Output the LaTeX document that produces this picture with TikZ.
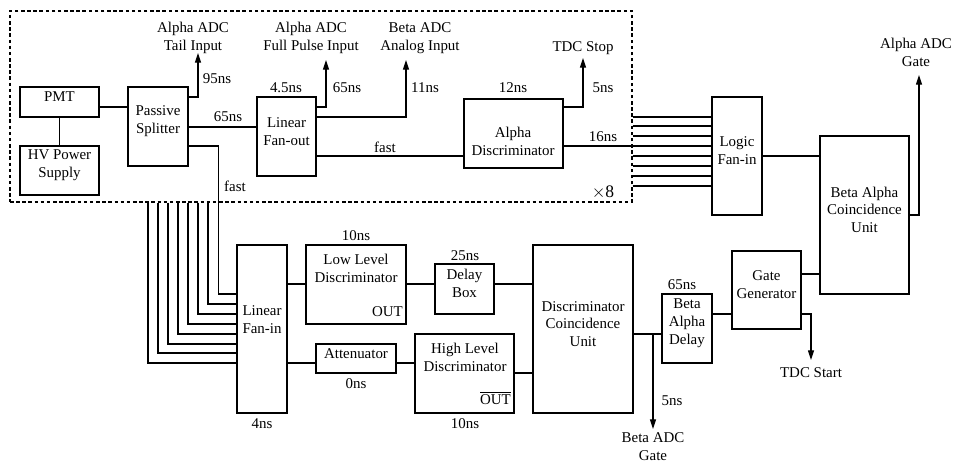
\documentclass[tikz,border=0pt]{standalone}
\usepackage{fontspec}
\setmainfont{Liberation Serif}
\usetikzlibrary{arrows.meta, fit}

\begin{document}
\begin{tikzpicture}[
    x=0.02cm, y=-0.02cm,
    line width=0.6pt,
    every node/.style={font=\fontsize{8.5}{10.2}\selectfont},
    blk/.style={draw, inner sep=0pt, align=center},
    grp/.style={draw, dash pattern=on 2pt off 1.5pt, inner sep=0pt},
    lbl/.style={inner sep=1pt, align=center},
    arrow/.style={-{Triangle[length=5.5pt, width=3.4pt]}}
]
\useasboundingbox (0,0) rectangle (958,466);
% one channel (repeated x8)
\node[grp, fit={(10,11) (632,202)}] (chan) {};
\node[lbl, font=\fontsize{10}{12}\selectfont] (times) at (603,192) {$\times$8};
\node[blk, fit={(20,87) (99,117)}] (pmt) {PMT};
\node[blk, fit={(20,146) (99,195)}] (hv) {HV Power\\Supply};
\node[blk, fit={(128,87) (188,166)}] (split) {Passive\\Splitter};
\node[blk, fit={(257,97) (316,176)}] (fanout) {Linear\\Fan-out};
\node[blk, fit={(464,99) (563,168)}] (adisc) {};
\node[lbl] (adisctxt) at (513,141) {Alpha\\Discriminator};
% coincidence logic
\node[blk, fit={(712,97) (762,215)}] (logfi) {Logic\\Fan-in};
\node[blk, fit={(820,136) (909,294)}] (bacu) {Beta Alpha\\Coincidence\\Unit};
\node[blk, fit={(732,251) (801,329)}] (gate) {Gate\\Generator};
\node[blk, fit={(662,294) (712,363)}] (badly) {Beta\\Alpha\\Delay};
\node[blk, fit={(533,245) (633,413)}] (dcu) {Discriminator\\Coincidence\\Unit};
\node[blk, fit={(435,264) (494,314)}] (dbox) {Delay\\Box};
\node[blk, fit={(415,334) (514,413)}] (hld) {};
\node[lbl] (hldtxt) at (465,357) {High Level\\Discriminator};
\node[lbl, anchor=east] (hldout) at (513,398) {$\overline{\mbox{OUT}}$};
\node[blk, fit={(306,245) (406,324)}] (lld) {};
\node[lbl] (lldtxt) at (356,268) {Low Level\\Discriminator};
\node[lbl, anchor=east] (lldout) at (405,312) {OUT};
\node[blk, fit={(316,344) (396,373)}] (att) {Attenuator};
\node[blk, fit={(237,245) (287,413)}] (lfin) {};
\node[lbl] (lfintxt) at (262,320) {Linear\\Fan-in};
% outputs
\node[lbl] (tailin) at (193,38) {Alpha ADC\\Tail Input};
\node[lbl] (fullin) at (311,38) {Alpha ADC\\Full Pulse Input};
\node[lbl] (anain) at (420,38) {Beta ADC\\Analog Input};
\node[lbl] (tdcstop) at (583,48) {TDC Stop};
\node[lbl] (agate) at (916,52) {Alpha ADC\\Gate};
\node[lbl] (bgate) at (653,447) {Beta ADC\\Gate};
\node[lbl] (tdcstart) at (811,373) {TDC Start};
\coordinate (tailend) at (198,53);
\coordinate (fullend) at (326,60);
\coordinate (anaend) at (406,60);
\coordinate (stopend) at (583,58);
\coordinate (agateend) at (919,75);
\coordinate (bgateend) at (653,429);
\coordinate (startend) at (811,360);
% delays
\node[lbl] (d95) at (217,79) {95ns};
\node[lbl] (d65a) at (228,117) {65ns};
\node[lbl] (fasta) at (235,186) {fast};
\node[lbl] (d45) at (286,88) {4.5ns};
\node[lbl] (d65b) at (347,88) {65ns};
\node[lbl] (d11) at (425,88) {11ns};
\node[lbl] (fastb) at (385,147) {fast};
\node[lbl] (d12) at (513,88) {12ns};
\node[lbl] (d5a) at (603,88) {5ns};
\node[lbl] (d16) at (603,137) {16ns};
\node[lbl] (d10a) at (356,236) {10ns};
\node[lbl] (d25) at (465,256) {25ns};
\node[lbl] (d0) at (356,384) {0ns};
\node[lbl] (d4) at (262,424) {4ns};
\node[lbl] (d10b) at (465,424) {10ns};
\node[lbl] (d65c) at (682,285) {65ns};
\node[lbl] (d5b) at (672,401) {5ns};
% channel wiring
\draw (pmt.south) -- (hv.north);
\draw (pmt.east |- 0,107) -- (split.west |- 0,107);
\draw[arrow] (split.east |- 0,97) -| (tailend);
\draw (split.east |- 0,127) -- (fanout.west |- 0,127);
\draw (split.east |- 0,146) -- ++(30,0) |- (lfin.west |- 0,294);
\draw[arrow] (fanout.east |- 0,107) -| (fullend);
\draw[arrow] (fanout.east |- 0,117) -| (anaend);
\draw (fanout.east |- 0,156) -- (adisc.west |- 0,156);
\draw[arrow] (adisc.east |- 0,107) -| (stopend);
\draw (adisc.east |- 0,146) -- (logfi.west |- 0,146);
% the other seven channels
\draw (chan.east |- 0,117) -- (logfi.west |- 0,117);
\draw (chan.east |- 0,126) -- (logfi.west |- 0,126);
\draw (chan.east |- 0,136) -- (logfi.west |- 0,136);
\draw (chan.east |- 0,156) -- (logfi.west |- 0,156);
\draw (chan.east |- 0,166) -- (logfi.west |- 0,166);
\draw (chan.east |- 0,176) -- (logfi.west |- 0,176);
\draw (chan.east |- 0,186) -- (logfi.west |- 0,186);
\draw (chan.south -| 148,0) |- (lfin.west |- 0,363);
\draw (chan.south -| 158,0) |- (lfin.west |- 0,353);
\draw (chan.south -| 168,0) |- (lfin.west |- 0,344);
\draw (chan.south -| 178,0) |- (lfin.west |- 0,334);
\draw (chan.south -| 188,0) |- (lfin.west |- 0,324);
\draw (chan.south -| 198,0) |- (lfin.west |- 0,314);
\draw (chan.south -| 208,0) |- (lfin.west |- 0,304);
% beta side
\draw (lfin.east |- 0,284) -- (lld.west |- 0,284);
\draw (lld.east |- 0,284) -- (dbox.west |- 0,284);
\draw (dbox.east |- 0,284) -- (dcu.west |- 0,284);
\draw (lfin.east |- 0,363) -- (att.west |- 0,363);
\draw (att.east |- 0,363) -- (hld.west |- 0,363);
\draw (hld.east |- 0,373) -- (dcu.west |- 0,373);
\draw (dcu.east |- 0,334) -- (badly.west |- 0,334);
\draw[arrow] (dcu.east |- 0,334) -| (bgateend);
\draw (badly.east |- 0,314) -- (gate.west |- 0,314);
\draw[arrow] (gate.east |- 0,314) -| (startend);
\draw (gate.east |- 0,274) -- (bacu.west |- 0,274);
\draw (logfi.east |- 0,156) -- (bacu.west |- 0,156);
\draw[arrow] (bacu.east |- 0,215) -| (agateend);
\end{tikzpicture}
\end{document}
